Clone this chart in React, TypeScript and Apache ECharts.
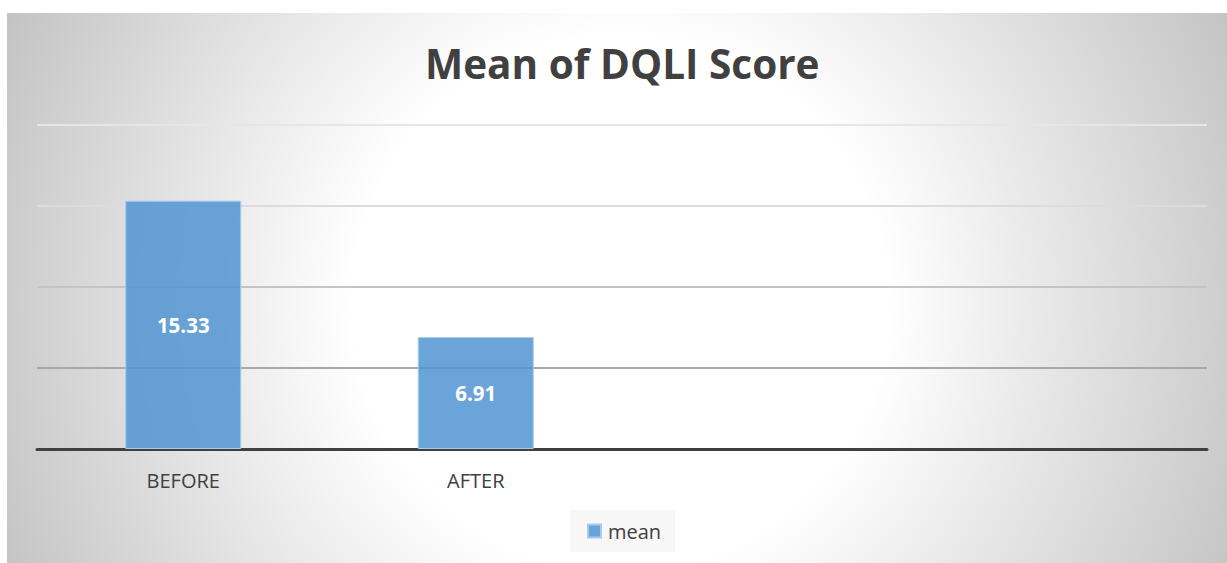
import React, { useEffect, useRef } from "react";
import * as echarts from "echarts";

const categories = ["BEFORE", "AFTER", "", ""];
const meanValues: (number | null)[] = [15.33, 6.91, null, null];
const seriesName = "mean";
const titleText = "Mean of DQLI Score";

export default function App() {
  const ref = useRef<HTMLDivElement>(null);
  useEffect(() => {
    if (!ref.current) return;
    const chart = echarts.init(ref.current, undefined, { renderer: "svg" });
    chart.setOption({
      animation: false,
      backgroundColor: "transparent",
      title: {
        text: titleText,
        left: 418,
        top: 30,
        padding: 0,
        textStyle: {
          fontFamily: "Open Sans",
          fontWeight: "bold",
          fontSize: 40.5,
          color: "#404040",
        },
      },
      legend: {
        data: [seriesName],
        top: 497,
        left: 563,
        icon: "rect",
        itemWidth: 13,
        itemHeight: 13,
        itemGap: 6,
        backgroundColor: "#f7f7f7",
        padding: [11, 14, 11, 17],
        textStyle: { fontFamily: "Open Sans", fontSize: 20, color: "#404040", padding: [0, 0, 0, 2] },
      },
      grid: { left: 30, right: 20, top: 112, bottom: 114, containLabel: false },
      xAxis: {
        type: "category",
        data: categories,
        axisTick: { show: false },
        axisLine: { lineStyle: { color: "#404040", width: 3 } },
        axisLabel: { fontFamily: "Open Sans", fontSize: 20, color: "#404040", margin: 21 },
      },
      yAxis: {
        type: "value",
        min: 0,
        max: 20,
        interval: 5,
        axisLabel: { show: false },
        axisLine: { show: false },
        axisTick: { show: false },
        splitLine: {
          lineStyle: {
            width: 2,
            color: ["#a0a0a0", "#a8a8a8", "#c4c4c4", "#dcdcdc", "#e6e6e6"],
          },
        },
      },
      series: [
        {
          name: seriesName,
          type: "bar",
          data: meanValues,
          barWidth: 116,
          itemStyle: {
            color: "rgba(80,148,210,0.85)",
            borderColor: "#a9cbea",
            borderWidth: 1,
          },
          label: {
            show: true,
            position: "inside",
            color: "#ffffff",
            fontWeight: "bold",
            fontSize: 20.5,
            fontFamily: "Open Sans",
          },
        },
      ],
    });
    return () => chart.dispose();
  }, []);
  return (
    <div
      ref={ref}
      style={{
        position: "absolute",
        left: 7,
        top: 13,
        width: 1220,
        height: 550,
        background:
          "radial-gradient(circle 700px at 613px 290px, #ffffff 0%, #ffffff 38%, #c0c0c0 100%)",
      }}
    />
  );
}
